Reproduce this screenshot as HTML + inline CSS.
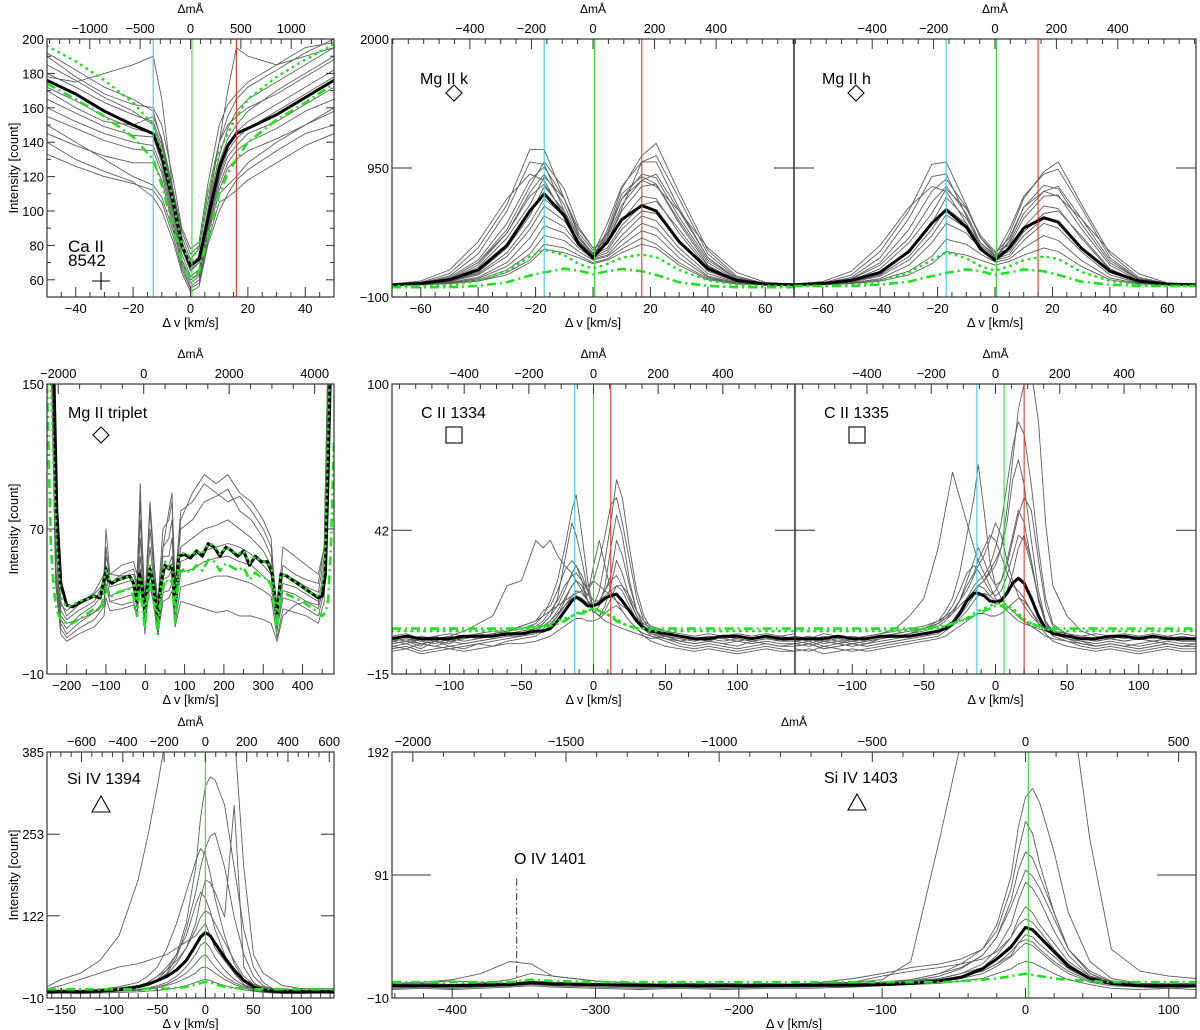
<!DOCTYPE html>
<html><head><meta charset="utf-8"><title>Spectral line profiles</title>
<style>
html,body{margin:0;padding:0;background:#fff;}
svg{display:block;font-family:"Liberation Sans",Arial,sans-serif;}
</style></head>
<body>
<svg id="fig" width="1200" height="1030" viewBox="0 0 1200 1030" xmlns="http://www.w3.org/2000/svg"></svg>
<script>
// ===== Ca II 8542 =====
const caV = [-50,-40,-30,-20,-13,-10,-6,-3,0,3,6,10,13,16,20,30,40,50];
const caMean = [176,168,158,150,145,132,105,80,68,72,95,125,138,145,148,156,166,176];
const caDot = [196,187,176,163,150,135,105,80,70,80,110,135,145,155,165,178,188,197];
const caDash = [174,165,155,143,130,115,90,70,60,65,85,110,122,130,140,153,163,174];
const caGray = [
[192,182,172,165,158,140,110,85,72,78,105,140,155,165,172,182,192,200],
[185,176,166,158,150,135,105,80,68,74,100,132,148,158,165,175,185,195],
[180,172,163,156,152,138,108,82,70,72,98,128,142,150,158,170,180,190],
[172,164,155,148,145,130,100,78,65,70,95,122,138,146,152,162,172,182],
[165,157,149,144,143,128,98,75,62,66,92,120,135,142,148,158,168,178],
[160,152,145,140,138,125,95,72,60,64,90,118,132,138,145,152,162,172],
[155,148,141,136,135,122,92,70,58,62,88,115,128,135,140,148,158,165],
[145,138,132,128,128,118,90,68,56,60,85,112,125,130,135,142,150,158],
[133,126,120,116,112,105,85,66,55,58,82,105,108,112,118,128,138,145],
[178,175,180,185,190,165,110,80,66,70,100,140,170,195,190,185,190,195],
[190,178,168,162,160,150,118,90,78,82,115,150,162,168,175,185,195,198],
[170,160,152,150,155,142,112,88,75,80,110,140,150,155,160,168,178,188],
[150,140,130,120,115,108,88,70,60,63,88,110,115,120,128,140,150,160],
[140,130,123,117,108,100,82,64,53,56,80,100,110,118,124,135,145,150]];
const caLines = [-13,0.5,16];

// ===== Mg II k / h =====
const mgV = [-70,-60,-50,-40,-30,-22,-17,-10,-5,0,5,10,17,22,30,40,50,60,70];
const mgkMean = [0,10,40,120,320,600,740,560,330,220,350,530,645,600,350,130,35,5,0];
const mgkDot = [-10,-10,-5,30,110,230,285,240,170,130,170,220,245,225,120,35,0,-10,-10];
const mgkDash = [-20,-20,-20,-10,20,75,100,130,115,85,110,128,110,80,20,-10,-20,-20,-20];
const mgkGray = [
[0,20,90,300,650,1100,1100,700,400,250,500,800,1000,1050,700,250,60,10,0],
[0,15,70,250,600,1000,980,600,330,200,450,780,1050,1150,750,280,70,10,0],
[0,10,60,200,500,850,960,700,420,280,420,700,900,870,550,200,50,10,0],
[0,10,50,180,420,750,900,650,380,250,380,650,850,900,600,220,50,5,0],
[0,5,40,140,380,650,880,700,450,300,350,600,800,820,520,180,40,5,0],
[0,5,30,100,300,560,800,600,380,260,330,520,720,700,420,130,30,0,0],
[0,5,30,90,260,500,700,560,360,240,300,480,650,680,450,150,30,0,0],
[0,5,25,80,230,450,640,520,340,230,280,450,600,580,350,110,25,0,0],
[0,5,20,60,180,380,560,470,320,220,260,400,560,520,300,90,20,0,0],
[0,0,15,50,150,300,480,420,300,210,240,360,500,460,260,70,15,0,0],
[0,0,10,40,120,250,400,360,270,200,230,320,440,400,220,60,10,0,0],
[0,0,10,30,100,200,330,300,240,180,210,290,380,330,180,50,10,0,0],
[5,30,120,350,700,900,850,550,320,230,400,700,850,800,600,300,100,20,5],
[0,10,50,180,450,800,1000,780,470,300,350,620,1000,1000,620,220,50,5,0],
[0,0,10,30,80,180,290,260,220,170,200,260,330,300,160,40,5,0,0],
[0,5,40,160,420,720,820,580,350,240,420,740,880,820,500,160,30,5,0]];
const mgkLines = [-17,0.5,17];
const mghMean = [0,10,35,100,270,500,610,470,290,200,300,460,545,510,300,110,30,5,0];
const mghDot = [-10,-10,-5,25,100,200,265,215,150,115,150,200,230,210,105,30,0,-10,-10];
const mghDash = [-10,-10,-10,0,25,70,95,125,110,80,100,125,110,80,25,0,-10,-10,-10];
const mghGray = [
[0,15,80,270,600,980,1000,650,380,240,450,720,900,940,630,220,50,10,0],
[0,10,60,220,540,880,900,560,310,190,410,700,920,1000,660,250,60,10,0],
[0,10,50,180,450,760,860,630,380,260,380,630,810,780,500,180,45,10,0],
[0,8,45,160,380,670,800,580,340,230,340,580,760,800,540,200,45,5,0],
[0,5,35,130,340,580,780,620,400,270,320,540,720,730,460,160,35,5,0],
[0,5,25,90,270,500,710,540,340,240,300,470,640,620,380,120,25,0,0],
[0,5,25,80,230,450,620,500,320,220,270,430,580,600,400,130,25,0,0],
[0,5,20,70,200,400,570,460,300,210,250,400,540,510,310,100,20,0,0],
[0,0,15,50,160,340,500,420,290,200,230,360,500,460,270,80,15,0,0],
[0,0,10,40,110,230,370,330,250,185,210,300,400,360,200,55,10,0,0],
[5,25,110,320,630,800,760,500,290,210,360,630,760,720,540,270,90,15,5],
[0,0,10,30,80,170,270,240,200,160,190,240,300,270,150,40,5,0,0]];
const mghLines = [-17,0.5,15];

// ===== Mg II triplet =====
const tripV = [-250,-240,-232,-225,-215,-200,-185,-170,-150,-130,-115,-105,-100,-95,-85,-70,-55,-40,-30,-21,-15,-10,-1,5,12,20,32,40,50,60,68,76,85,100,115,130,145,160,175,190,205,220,235,250,265,280,295,310,322,335,345,360,380,400,420,440,450,458,465,472,480];
const tripMean = [200,200,150,80,40,28,27,29,31,33,32,42,48,42,40,42,43,44,40,30,45,40,24,38,48,40,20,40,50,48,50,28,55,56,54,58,55,62,60,55,60,58,55,58,50,55,52,52,46,23,45,44,41,38,35,32,33,45,100,170,200];
const tripDot = [200,150,100,60,32,27,28,30,31,33,33,42,48,43,41,42,43,44,40,30,44,40,23,38,50,40,19,40,52,48,50,27,55,57,55,58,56,62,61,56,60,58,56,58,51,55,52,52,47,22,45,44,41,38,35,33,38,60,120,180,200];
const tripDash = [150,60,35,25,20,18,18,20,23,26,25,33,38,34,33,35,36,37,33,22,36,32,15,30,40,32,12,32,42,40,42,18,46,48,46,50,47,53,52,47,51,49,47,49,42,46,43,43,38,14,35,34,32,30,27,24,22,24,30,60,120];
const tripGrayV = [-250,-238,-228,-215,-200,-170,-130,-105,-100,-90,-60,-30,-21,-13,-5,-1,5,12,20,32,45,60,68,76,90,120,150,180,210,240,270,300,320,335,350,380,410,440,455,465,475,480];
const tripGray = [
[200,200,80,30,22,28,35,45,70,45,50,52,45,85,50,30,55,80,55,30,70,75,85,40,80,85,95,90,85,88,80,70,60,25,50,45,42,40,60,170,200,200],
[200,200,70,25,20,25,30,40,60,40,45,48,40,75,45,25,50,70,50,25,60,65,75,35,70,75,85,88,92,80,75,65,55,22,45,42,38,35,55,160,200,200],
[200,180,60,20,15,22,28,35,50,38,40,42,35,65,40,22,45,60,45,22,55,55,65,30,60,65,70,72,75,70,65,58,50,20,40,38,34,30,45,150,200,200],
[200,170,50,18,12,18,24,30,45,33,36,38,30,55,36,18,40,50,40,18,48,50,55,26,52,55,58,60,62,60,56,50,45,16,36,34,30,26,40,140,200,200],
[200,160,45,15,10,15,20,27,40,30,32,34,27,48,32,16,36,45,36,15,42,44,48,22,46,48,52,54,55,52,50,44,40,14,32,30,26,22,36,130,200,200],
[200,150,40,12,8,12,16,22,32,25,26,28,22,40,26,12,30,38,30,12,35,36,40,18,38,40,42,44,44,42,40,36,33,10,26,24,22,18,30,120,200,200],
[200,190,65,22,18,20,24,28,38,30,28,30,24,45,30,15,28,40,32,12,30,32,36,16,30,28,26,24,25,22,22,20,18,8,22,28,30,28,50,150,200,200],
[200,200,75,28,25,30,34,40,55,45,44,45,38,95,45,20,55,85,60,20,60,80,90,30,75,90,100,95,100,90,85,75,65,20,60,55,50,45,60,170,200,200]];

// ===== C II 1334 / 1335 =====
const ciiV = [-140,-130,-120,-110,-100,-90,-80,-70,-60,-50,-40,-35,-30,-25,-20,-15,-12,-8,-4,0,4,8,12,16,20,25,30,35,40,50,60,70,80,90,100,110,120,130,140];
const c34Mean = [-1,0,-1,-1,-1,0,0,0,1,1,2,2,3,6,10,14,15.5,14,12,12,13,15,16,16.7,14,10,6,3,2,1,0,-1,-1,0,0,-1,0,-1,-1];
const c34Dash = [3,3,3,3,3,3,3,3,3,3,4,4,4,5,6,8,9,9,10,11,10,9,8,6,5,4,3,3,3,3,3,3,3,3,3,3,3,3,3];
const c34Dot = [2,2,2,2,2,2,2,2,2,3,3,4,5,6,7,8,9,10,10,11,10,9,8,7,5,4,3,3,2,2,2,2,2,2,2,2,2,2,2];
const c34Gray = [
[-3,-2,-4,0,-2,-1,1,0,2,3,5,8,14,22,35,50,56,40,22,10,8,12,20,30,25,15,8,4,2,0,-1,-2,0,-1,-2,-1,0,-2,-1],
[-2,-3,-1,-2,-3,0,-1,1,0,2,3,5,8,12,18,25,28,22,14,12,18,30,45,62,55,35,18,8,3,1,0,-1,-2,0,-1,-2,-1,0,-1],
[-2,-1,-3,-2,0,2,5,8,20,22,38,35,38,32,28,25,22,18,14,10,8,6,5,4,3,2,1,0,-1,0,-2,-1,-2,0,-1,-2,-1,-2,-1],
[-4,-3,-5,-2,-4,-3,-2,-1,0,1,3,5,8,15,30,45,40,30,18,10,8,10,15,20,18,12,6,3,1,0,-2,-3,-2,-3,-4,-2,-3,-4,-3],
[-1,0,-2,-1,0,-1,0,1,2,3,4,6,10,14,20,24,25,22,18,22,30,40,52,55,45,30,15,6,2,1,0,-1,0,-1,0,-1,0,-1,0],
[-5,-4,-6,-5,-4,-5,-3,-4,-2,-1,0,2,4,8,12,16,18,17,14,12,14,18,22,24,20,14,8,3,0,-2,-4,-5,-4,-5,-6,-5,-4,-5,-6],
[-3,-2,-3,-4,-2,-3,-2,-1,0,0,2,4,6,10,15,20,22,20,16,28,38,28,18,14,10,6,3,1,0,-1,-2,-3,-2,-3,-2,-3,-2,-3,-3],
[-2,-1,-2,-3,-1,-2,-1,0,1,2,3,4,6,9,12,15,16,15,13,12,14,18,24,38,32,20,10,4,2,0,-1,-2,-1,-2,-1,-2,-1,-2,-2],
[-6,-5,-7,-6,-5,-6,-5,-4,-3,-3,-2,-1,0,2,4,6,7,7,6,6,7,9,11,12,10,6,3,0,-2,-4,-5,-6,-5,-6,-7,-6,-5,-6,-6],
[0,1,-1,0,1,0,1,2,2,4,6,8,10,12,14,16,17,18,20,22,20,18,16,14,12,10,7,5,3,2,1,0,1,0,1,0,1,0,1],
[-4,-5,-3,-4,-5,-4,-3,-2,-1,0,1,3,5,8,14,20,22,20,14,9,12,20,35,48,40,22,10,4,1,-1,-3,-4,-3,-4,-5,-4,-3,-4,-4],
[-1,-2,0,-1,-2,-1,0,1,2,4,6,10,12,18,26,30,28,24,18,14,14,16,18,20,20,16,10,6,4,2,0,-1,0,-1,0,-1,0,-1,-1]];
const c34Lines = [-13,0,12];
const c35Mean = [-1,-1,-1,0,-1,-1,0,0,0,1,2,3,5,9,14,17,17,16,14,13.5,14,17,21,23,21,15,8,3,1,0,-1,-1,0,0,-1,0,-1,-1,-1];
const c35Dash = [3,3,3,3,3,3,3,3,3,3,4,4,5,6,7,8,9,10,11,12,12,11,10,8,6,5,4,3,3,3,3,3,3,3,3,3,3,3,3];
const c35Dot = [2,2,2,2,2,2,2,2,2,3,3,4,5,6,7,9,10,11,12,13,13,12,11,9,7,5,4,3,2,2,2,2,2,2,2,2,2,2,2];
const c35Gray = [
[-2,-1,-3,-2,-1,0,1,3,8,15,35,50,65,55,45,35,30,25,20,15,12,10,8,6,5,4,3,2,1,0,-1,-2,-1,-2,-1,-2,-1,-2,-2],
[-3,-2,-4,-3,-2,-3,-1,0,1,3,6,10,15,25,40,55,68,50,30,20,15,12,10,8,6,4,2,0,-1,-2,-3,-4,-3,-4,-3,-2,-3,-4,-3],
[-1,-2,0,-1,-2,-1,0,1,2,3,5,7,9,12,15,18,20,22,25,28,35,50,70,90,100,105,85,45,20,8,2,0,-1,0,-1,0,-1,0,-1],
[-4,-3,-5,-4,-3,-4,-3,-2,-1,0,2,4,6,10,15,20,22,24,28,35,45,60,75,85,80,60,35,15,5,0,-2,-4,-3,-4,-5,-4,-3,-4,-4],
[-2,-1,-2,-3,-1,-2,-1,0,1,2,4,6,9,14,22,30,35,30,24,20,22,28,38,48,55,50,30,12,4,1,-1,-2,-1,-2,-1,-2,-1,-2,-2],
[-5,-6,-4,-5,-6,-5,-4,-3,-2,-1,0,2,4,7,10,14,16,17,16,18,22,30,40,50,45,30,14,5,0,-2,-4,-5,-4,-5,-6,-5,-4,-5,-5],
[0,-1,1,0,-1,0,1,2,3,4,6,8,10,14,18,24,28,32,38,45,40,30,22,16,12,8,5,3,2,1,0,1,0,1,0,1,0,1,0],
[-3,-4,-2,-3,-4,-3,-2,-1,0,1,2,4,6,9,14,18,20,19,16,14,15,18,25,35,40,30,15,5,1,-1,-2,-3,-2,-3,-4,-3,-2,-3,-3],
[-6,-5,-7,-6,-5,-6,-5,-4,-3,-2,-1,0,2,4,6,8,9,9,8,8,9,11,13,15,14,10,5,1,-2,-4,-5,-6,-5,-6,-7,-6,-5,-6,-6],
[-2,-3,-1,-2,-3,-2,-1,0,1,3,5,8,12,18,25,28,26,22,18,16,18,24,32,40,38,28,15,6,2,0,-1,-2,-1,-2,-1,-2,-1,-2,-2],
[-1,0,-2,-1,0,-1,0,1,2,3,5,7,10,14,20,25,30,35,40,38,32,25,20,18,15,10,6,3,2,1,0,-1,0,-1,0,-1,0,-1,-1],
[-4,-3,-5,-4,-3,-4,-3,-2,-1,0,1,3,5,8,12,16,20,22,26,30,35,45,62,70,60,38,18,6,1,-1,-3,-4,-3,-4,-5,-4,-3,-4,-4]];
const c35Lines = [-13,6,20];

// ===== Si IV 1394 =====
const s94V = [-165,-150,-130,-110,-90,-70,-60,-50,-40,-30,-20,-10,-5,0,5,10,20,30,40,50,60,70,80,100,120,134];
const s94Mean = [0,0,0,1,3,8,12,18,25,35,50,75,88,95,90,78,55,35,18,8,3,1,0,0,0,0];
const s94Dash = [4,4,4,4,4,4,5,5,5,6,8,12,14,16,15,12,8,6,5,4,4,4,4,4,4,4];
const s94Gray = [
[8,20,30,50,90,180,250,330,420,500,500,500,500,500,500,500,500,420,200,60,30,20,10,5,5,5],
[0,0,0,2,4,8,12,20,35,60,110,200,280,330,345,340,300,200,100,40,15,5,2,0,0,0],
[0,0,1,2,4,8,12,18,30,55,100,160,200,230,250,255,200,120,60,25,10,4,2,0,0,0],
[0,1,2,4,8,15,25,40,70,110,160,210,230,220,190,150,90,45,20,8,3,1,0,0,0,0],
[0,0,1,3,6,10,15,25,40,60,90,140,160,150,130,100,60,30,12,5,2,0,0,0,0,0],
[0,0,1,2,4,8,12,18,28,45,70,110,150,180,175,160,120,300,40,15,5,2,0,0,0,0],
[5,10,20,30,40,45,50,55,60,70,80,90,100,110,90,70,50,30,20,12,8,5,5,3,3,3],
[0,0,0,1,2,4,6,10,15,25,40,60,75,80,70,55,35,20,10,4,2,0,0,0,0,0],
[-2,-2,-1,0,1,2,4,6,10,15,22,30,38,40,36,30,20,12,6,2,0,-1,-2,-2,-2,-2],
[0,1,0,1,2,3,5,8,12,20,30,45,55,60,50,40,25,15,8,4,2,1,0,1,0,1],
[2,3,2,4,6,10,15,25,35,50,70,100,120,130,125,110,80,50,25,12,6,4,3,2,2,2],
[-3,-2,-3,-2,-1,0,1,2,4,6,10,15,18,20,18,15,10,6,3,1,-1,-2,-3,-3,-2,-3]];
const s94Lines = [0];

// ===== Si IV 1403 =====
const s03V = [-442,-420,-400,-380,-360,-345,-330,-300,-270,-240,-210,-180,-150,-120,-100,-80,-60,-45,-30,-20,-10,-5,0,5,10,20,30,45,60,80,100,119];
const s03Mean = [0,0,0,0.5,1,2.5,1.5,1,0.5,0,0,0,0.5,0.5,1,2,4,7,14,22,32,40,48,46,40,28,16,6,2,0,0,0];
const s03Dash = [3,3,3,3,3,5,4,3,3,3,3,3,3,3,3,3,3,4,5,6,8,9,10,9,8,6,5,4,3,3,3,3];
const s03Gray = [
[2,3,4,3,2,3,2,2,1,2,2,1,2,3,5,20,120,200,300,300,300,300,300,300,300,300,250,120,30,12,8,6],
[0,1,0,1,1,2,1,0,1,0,1,0,1,2,3,5,10,18,30,50,90,130,155,162,150,110,60,20,6,2,1,0],
[1,2,1,2,5,10,8,4,2,1,2,1,2,6,10,15,18,22,30,45,80,110,135,125,100,60,30,10,3,1,0,1],
[0,0,1,0,1,2,1,0,0,1,0,0,1,1,2,4,8,14,25,40,70,95,110,105,90,60,30,10,3,1,0,0],
[-1,0,-1,0,1,2,1,0,-1,0,-1,0,0,1,2,3,6,10,18,30,50,70,85,80,70,45,25,8,2,0,-1,0],
[2,3,5,10,20,18,8,4,2,1,2,1,2,2,3,4,6,10,15,25,40,55,65,60,50,35,20,8,4,2,2,2],
[0,1,0,0,1,3,2,0,0,1,0,0,1,3,8,12,15,18,22,28,40,50,55,52,45,30,18,6,2,1,0,1],
[-2,-1,-2,-1,0,1,0,-1,-2,-1,-2,-1,-1,0,1,2,4,6,10,16,24,30,35,33,28,18,10,3,0,-1,-2,-1],
[0,0,1,0,1,2,1,1,0,1,0,1,0,1,2,3,5,8,12,18,25,35,42,40,34,24,14,5,1,0,1,0],
[-3,-2,-3,-2,-1,0,-1,-2,-3,-2,-3,-2,-2,-1,0,1,2,4,6,10,14,18,20,19,16,10,5,1,-2,-3,-2,-3],
[1,2,1,2,2,4,3,2,1,2,1,2,1,2,3,5,10,15,25,40,65,80,95,90,80,55,30,12,4,2,1,2],
[-1,0,-1,0,0,2,1,0,-1,0,-1,0,0,1,2,3,5,8,12,18,28,35,38,36,30,20,12,4,1,0,-1,0]];
const s03Lines = [2];
const oivMarker = [-355, 2, 88];

// ===== tick label arrays =====
const caYTicks = [60,80,100,120,140,160,180,200];
const caXTicks = [-40,-20,0,20,40];
const caTopTicks = [-1000,-500,0,500,1000];
const mgYTicks = [-100,950,2000];
const mgXTicks = [-60,-40,-20,0,20,40,60];
const mgTopTicks = [-400,-200,0,200,400];
const tripYTicks = [-10,70,150];
const tripXTicks = [-200,-100,0,100,200,300,400];
const tripTopTicks = [-2000,0,2000,4000];
const ciiYTicks = [-15,42,100];
const ciiXTicks = [-100,-50,0,50,100];
const ciiTopTicks = [-400,-200,0,200,400];
const s94YTicks = [-10,122,253,385];
const s94XTicks = [-150,-100,-50,0,50,100];
const s94TopTicks = [-600,-400,-200,0,200,400,600];
const s03YTicks = [-10,91,192];
const s03XTicks = [-400,-300,-200,-100,0,100];
const s03TopTicks = [-2000,-1500,-1000,-500,0,500];

const NS = 'http://www.w3.org/2000/svg';
const svg = document.getElementById('fig');
function mk(tag, attrs, parent){
  const e = document.createElementNS(NS, tag);
  for (const k in attrs) e.setAttribute(k, attrs[k]);
  (parent || svg).appendChild(e);
  return e;
}
function txt(s, x, y, size, anchor, parent, name){
  const t = mk('text', {x:x, y:y, 'font-size':size, 'text-anchor':anchor||'middle', fill:'#000'}, parent);
  t.textContent = s;
  
  
  return t;
}

let clipId = 0;
function panel(cfg){
  const g = mk('g', {});
  
  
  const X = v => cfg.x0 + (v - cfg.xr[0]) / (cfg.xr[1] - cfg.xr[0]) * (cfg.x1 - cfg.x0);
  const Y = v => cfg.y1 - (v - cfg.yr[0]) / (cfg.yr[1] - cfg.yr[0]) * (cfg.y1 - cfg.y0);
  const cid = 'clip' + (clipId++);
  const cp = mk('clipPath', {id: cid}, g);
  mk('rect', {x:cfg.x0, y:cfg.y0, width:cfg.x1-cfg.x0, height:cfg.y1-cfg.y0}, cp);
  const plot = mk('g', {'clip-path':'url(#'+cid+')'}, g);
  
  
  function line(xs, ys, style){
    let d = '';
    const n = Math.min(xs.length, ys.length);
    for (let i = 0; i < n; i++) d += (i ? 'L' : 'M') + X(xs[i]).toFixed(1) + ',' + Y(ys[i]).toFixed(1);
    const p = mk('path', Object.assign({d:d, fill:'none', 'stroke-linejoin':'round'}, style), plot);
    return p;
  }
  cfg.gray.forEach(arr => {
    const p = line(cfg.grayV || cfg.v, arr, {stroke:'#5e5e5e', 'stroke-width':0.9});
    
    
  });
  let p = line(cfg.v, cfg.mean, {stroke:'#000', 'stroke-width':3});
  
  
  if (cfg.dot){
    p = line(cfg.v, cfg.dot, {stroke:'#22e022', 'stroke-width':2.6, 'stroke-dasharray':'0.5,6', 'stroke-linecap':'round'});
    
    
  }
  if (cfg.dash){
    p = line(cfg.v, cfg.dash, {stroke:'#22e022', 'stroke-width':2.6, 'stroke-dasharray':'9,4,2,4'});
    
    
  }
  const lc = cfg.lines.length === 1 ? ['#33dd33'] : ['#33ccee', '#33dd33', '#ee3322'];
  cfg.lines.forEach((v, i) => {
    const l = mk('line', {x1:X(v), x2:X(v), y1:cfg.y0, y2:cfg.y1, stroke:lc[i], 'stroke-width':1.1}, plot);
    
    
  });
  // frame
  const fr = mk('rect', {x:cfg.x0, y:cfg.y0, width:cfg.x1-cfg.x0, height:cfg.y1-cfg.y0, fill:'none', stroke:'#333', 'stroke-width':1.2}, g);
  
  
  if (cfg.divider){
    const dv = mk('line', {x1:cfg.x1, x2:cfg.x1, y1:cfg.y0, y2:cfg.y1, stroke:'#000', 'stroke-width':1.2}, g);
    
    
  }
  const tk = mk('g', {stroke:'#333', 'stroke-width':1}, g);
  
  
  // bottom axis
  const xm = cfg.xMinor;
  for (let v = Math.ceil(cfg.xr[0]/xm)*xm; v <= cfg.xr[1]; v += xm){
    const major = cfg.xTicks.indexOf(v) >= 0;
    const L = major ? 10 : 5;
    mk('line', {x1:X(v), x2:X(v), y1:cfg.y1, y2:cfg.y1-L}, tk);
  }
  cfg.xTicks.forEach(v => {
    if (cfg.skipX && cfg.skipX(v)) return;
    txt(String(v).replace('-', '\u2212'), X(v), cfg.y1 + 16, 13, 'middle', g, 'x-tick-label');
  });
  txt('\u0394 v [km/s]', (cfg.x0+cfg.x1)/2, cfg.y1 + 30, 13, 'middle', g, 'x-axis-title');
  // top axis (mA)
  const T = m => X(m / cfg.mA + cfg.mOff);
  const tm = cfg.topMinor;
  const mlo = (cfg.xr[0]-cfg.mOff)*cfg.mA, mhi = (cfg.xr[1]-cfg.mOff)*cfg.mA;
  for (let m = Math.ceil(mlo/tm)*tm; m <= mhi; m += tm){
    const major = cfg.topTicks.indexOf(m) >= 0;
    mk('line', {x1:T(m), x2:T(m), y1:cfg.y0, y2:cfg.y0 + (major ? 10 : 5)}, tk);
  }
  cfg.topTicks.forEach(m => {
    txt(String(m).replace('-', '\u2212'), T(m), cfg.y0 - 6, 13, 'middle', g, 'top-tick-label');
  });
  txt('\u0394m\u00C5', (cfg.x0+cfg.x1)/2, cfg.y0 - 26, 12, 'middle', g, 'top-axis-title');
  // y axis
  if (cfg.yMinor){
    for (let v = Math.ceil(cfg.yr[0]/cfg.yMinor)*cfg.yMinor; v <= cfg.yr[1]; v += cfg.yMinor){
      const major = cfg.yTicks.indexOf(v) >= 0;
      const L = major ? 8 : 4;
      mk('line', {x1:cfg.x0, x2:cfg.x0+L, y1:Y(v), y2:Y(v)}, tk);
      mk('line', {x1:cfg.x1, x2:cfg.x1-L, y1:Y(v), y2:Y(v)}, tk);
    }
  } else {
    cfg.yTicks.forEach(v => {
      mk('line', {x1:cfg.x0, x2:cfg.x0+cfg.yLen, y1:Y(v), y2:Y(v)}, tk);
      mk('line', {x1:cfg.x1, x2:cfg.x1-cfg.yLen, y1:Y(v), y2:Y(v)}, tk);
    });
  }
  if (cfg.yLabels){
    cfg.yTicks.forEach(v => {
      txt(String(v).replace('-', '\u2212'), cfg.x0 - 3, Y(v) + 5, 13, 'end', g, 'y-tick-label');
    });
  }
  if (cfg.yTitle){
    const yc = (cfg.y0+cfg.y1)/2;
    const t = txt('Intensity [count]', 0, 0, 13, 'middle', g, 'y-axis-title');
    t.setAttribute('transform', 'translate(18,' + yc + ') rotate(-90)');
  }
  return {g:g, X:X, Y:Y};
}
function diamond(cx, cy, g){
  const d = mk('path', {d:'M'+cx+','+(cy-8)+'L'+(cx+8)+','+cy+'L'+cx+','+(cy+8)+'L'+(cx-8)+','+cy+'Z', fill:'none', stroke:'#000', 'stroke-width':1.1}, g);
  
  
}
function square(cx, cy, g){
  const d = mk('rect', {x:cx-8, y:cy-8, width:16, height:16, fill:'none', stroke:'#000', 'stroke-width':1.1}, g);
  
  
}
function triangle(cx, cy, g){
  const d = mk('path', {d:'M'+cx+','+(cy-9)+'L'+(cx+9)+','+(cy+7)+'L'+(cx-9)+','+(cy+7)+'Z', fill:'none', stroke:'#000', 'stroke-width':1.1}, g);
  
  
}

// Ca II
let P = panel({name:'ca-ii-8542', x0:47, x1:334, y0:39, y1:297, xr:[-50,50], yr:[50,200],
  v:caV, mean:caMean, dot:caDot, dash:caDash, gray:caGray, lines:caLines,
  xTicks:caXTicks, xMinor:5, topTicks:caTopTicks, topMinor:100, mA:28.49, mOff:0,
  yTicks:caYTicks, yMinor:10, yLabels:true, yTitle:true});
txt('Ca II', 68, 252, 17, 'start', P.g, 'line-label');
txt('8542', 68, 266, 17, 'start', P.g, 'line-label');
let cr = mk('path', {d:'M92,281H110M101,272V290', stroke:'#000', 'stroke-width':1.1}, P.g);



// Mg II k
P = panel({name:'mg-ii-k', x0:392, x1:794, y0:39, y1:297, xr:[-70,70], yr:[-100,2000],
  v:mgV, mean:mgkMean, dot:mgkDot, dash:mgkDash, gray:mgkGray, lines:mgkLines,
  xTicks:mgXTicks, xMinor:5, topTicks:mgTopTicks, topMinor:50, mA:9.328, mOff:0,
  yTicks:mgYTicks, yLen:20, yLabels:true, divider:true});
txt('Mg II k', 420, 84, 16, 'start', P.g, 'line-label');
diamond(454, 91+2, P.g);
// Mg II h
P = panel({name:'mg-ii-h', x0:794, x1:1196, y0:39, y1:297, xr:[-70,70], yr:[-100,2000],
  v:mgV, mean:mghMean, dot:mghDot, dash:mghDash, gray:mghGray, lines:mghLines,
  xTicks:mgXTicks, xMinor:5, topTicks:mgTopTicks, topMinor:50, mA:9.352, mOff:0,
  yTicks:mgYTicks, yLen:20, yLabels:false});
txt('Mg II h', 822, 84, 16, 'start', P.g, 'line-label');
diamond(856, 93, P.g);

// Mg II triplet
P = panel({name:'mg-ii-triplet', x0:47, x1:334, y0:384, y1:674, xr:[-250,480], yr:[-10,150],
  v:tripV, mean:tripMean, dot:tripDot, dash:tripDash, gray:tripGray, grayV:tripGrayV, lines:[],
  xTicks:tripXTicks, xMinor:50, topTicks:tripTopTicks, topMinor:500, mA:9.2, mOff:-4,
  yTicks:tripYTicks, yLen:8, yLabels:true, yTitle:true});
txt('Mg II triplet', 68, 418, 16, 'start', P.g, 'line-label');
diamond(101, 435, P.g);

// C II 1334
P = panel({name:'c-ii-1334', x0:392, x1:795, y0:384, y1:674, xr:[-140,140], yr:[-15,100],
  v:ciiV, mean:c34Mean, dot:c34Dot, dash:c34Dash, gray:c34Gray, lines:c34Lines,
  xTicks:ciiXTicks, xMinor:10, topTicks:ciiTopTicks, topMinor:50, mA:4.452, mOff:0,
  yTicks:ciiYTicks, yLen:20, yLabels:true, divider:true});
txt('C II 1334', 421, 418, 16, 'start', P.g, 'line-label');
square(454, 435, P.g);
// C II 1335
P = panel({name:'c-ii-1335', x0:795, x1:1196, y0:384, y1:674, xr:[-140,140], yr:[-15,100],
  v:ciiV, mean:c35Mean, dot:c35Dot, dash:c35Dash, gray:c35Gray, lines:c35Lines,
  xTicks:ciiXTicks, xMinor:10, topTicks:ciiTopTicks, topMinor:50, mA:4.456, mOff:0,
  yTicks:ciiYTicks, yLen:20, yLabels:false});
txt('C II 1335', 824, 418, 16, 'start', P.g, 'line-label');
square(857, 435, P.g);

// Si IV 1394
P = panel({name:'si-iv-1394', x0:47, x1:334, y0:752, y1:998, xr:[-165,134], yr:[-10,385],
  v:s94V, mean:s94Mean, dash:s94Dash, gray:s94Gray, lines:s94Lines,
  xTicks:s94XTicks, xMinor:10, topTicks:s94TopTicks, topMinor:50, mA:4.649, mOff:0,
  yTicks:s94YTicks, yLen:13, yLabels:true, yTitle:true});
txt('Si IV 1394', 67, 784, 16, 'start', P.g, 'line-label');
triangle(101, 805, P.g);

// Si IV 1403
P = panel({name:'si-iv-1403', x0:392, x1:1196, y0:752, y1:998, xr:[-442,119], yr:[-10,192],
  v:s03V, mean:s03Mean, dash:s03Dash, gray:s03Gray, lines:s03Lines,
  xTicks:s03XTicks, xMinor:20, topTicks:s03TopTicks, topMinor:100, mA:4.679, mOff:0,
  yTicks:s03YTicks, yLen:39, yLabels:true});
txt('Si IV 1403', 824, 783, 16, 'start', P.g, 'line-label');
triangle(857, 803, P.g);
txt('O IV 1401', 514, 864, 16, 'start', P.g, 'o-iv-label');
const ov = mk('line', {x1:P.X(oivMarker[0]), x2:P.X(oivMarker[0]), y1:P.Y(oivMarker[2]), y2:P.Y(oivMarker[1]), stroke:'#333', 'stroke-width':1, 'stroke-dasharray':'7,3,1.5,3'}, P.g);


</script>
</body></html>
